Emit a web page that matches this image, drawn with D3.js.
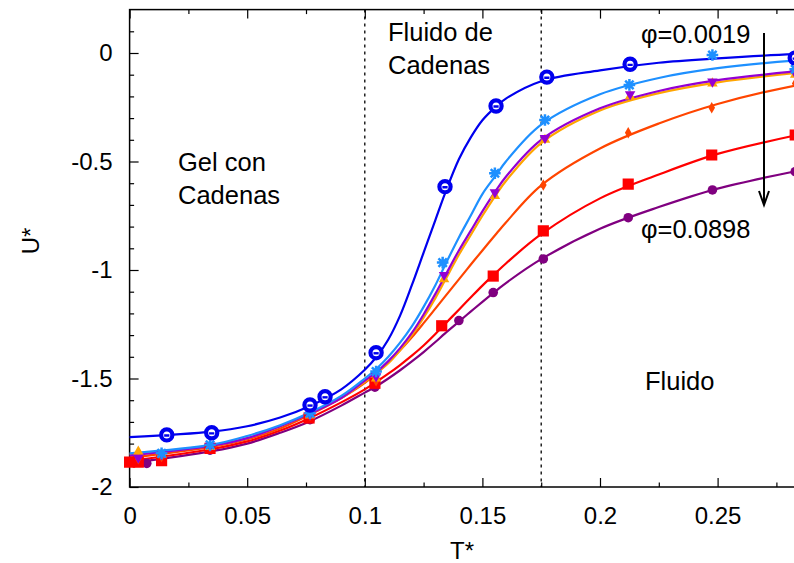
<!DOCTYPE html>
<html>
<head>
<meta charset="utf-8">
<script src="https://cdn.jsdelivr.net/npm/d3@7"></script>
<style>
  html, body { margin: 0; padding: 0; background: #fff; }
  svg { display: block; font-family: "Liberation Sans", Arial, Helvetica, sans-serif; }
</style>
</head>
<body>
<svg id="chart" width="794" height="563"></svg>
<script>
// ---- axis ticks ----
const xTicks = [0, 0.05, 0.1, 0.15, 0.2, 0.25, 0.3];
const xTickLabels = ["0", "0.05", "0.1", "0.15", "0.2", "0.25", ""];
const xMinor = [0.025, 0.075, 0.125, 0.175, 0.225, 0.275];
const yTicks = [0, -0.5, -1, -1.5, -2];
const yTickLabels = ["0", "-0.5", "-1", "-1.5", "-2"];
const yMinor = [0.1, -0.1, -0.2, -0.3, -0.4, -0.6, -0.7, -0.8, -0.9, -1.1, -1.2, -1.3, -1.4, -1.6, -1.7, -1.8, -1.9];

// ---- phase boundaries (dotted verticals) ----
const boundaries = [0.1, 0.175];

// ---- simulation points (T*, U*) per concentration ----
const tBlue  = [0.0158, 0.0349, 0.0767, 0.0831, 0.1048, 0.1341, 0.1558, 0.1774, 0.2128, 0.283];
const uBlue  = [-1.76, -1.75, -1.622, -1.584, -1.381, -0.616, -0.244, -0.111, -0.052, -0.023];

const tSky   = [0.0136, 0.0342, 0.0767, 0.1048, 0.1331, 0.1553, 0.1766, 0.2125, 0.2478, 0.283];
const uSky   = [-1.845, -1.806, -1.66, -1.468, -0.966, -0.554, -0.309, -0.147, -0.009, -0.075];

const tViolet = [0.0037, 0.0136, 0.0342, 0.0767, 0.1048, 0.1337, 0.1553, 0.1766, 0.2128, 0.2478, 0.283];
const uViolet = [-1.865, -1.85, -1.81, -1.665, -1.49, -1.023, -0.642, -0.392, -0.19, -0.132, -0.092];

const tOrange = [0.0037, 0.0136, 0.0342, 0.0767, 0.1048, 0.1337, 0.1553, 0.1766, 0.2128, 0.2478, 0.283];
const uOrange = [-1.837, -1.85, -1.815, -1.67, -1.50, -1.043, -0.659, -0.40, -0.20, -0.14, -0.10];

const tOrRed = [0.0037, 0.0136, 0.0342, 0.0767, 0.1048, 0.1759, 0.212, 0.2475, 0.283];
const uOrRed = [-1.87, -1.86, -1.815, -1.67, -1.51, -0.608, -0.367, -0.252, -0.14];

const tRed   = [0.0, 0.0037, 0.0136, 0.0342, 0.0763, 0.1043, 0.1327, 0.1546, 0.1759, 0.212, 0.2475, 0.283];
const uRed   = [-1.885, -1.885, -1.879, -1.822, -1.682, -1.522, -1.257, -1.028, -0.82, -0.604, -0.47, -0.378];

const tPurple = [0.0073, 0.0342, 0.0767, 0.1043, 0.140, 0.1546, 0.1759, 0.212, 0.2478, 0.283];
const uPurple = [-1.891, -1.83, -1.69, -1.54, -1.233, -1.104, -0.949, -0.759, -0.631, -0.547];

// ---- fitted curves, sampled on a common T* grid ----
const fitT      = [0, 0.035, 0.05, 0.064, 0.076, 0.09, 0.1, 0.105, 0.11, 0.115, 0.12, 0.125, 0.13, 0.134, 0.14, 0.145, 0.15, 0.156, 0.16, 0.175, 0.2, 0.225, 0.25, 0.283, 0.3];
const fitBlue   = [-1.77, -1.745, -1.72, -1.68, -1.63, -1.55, -1.46, -1.40, -1.32, -1.21, -1.07, -0.92, -0.77, -0.65, -0.49, -0.39, -0.31, -0.245, -0.21, -0.13, -0.08, -0.045, -0.025, -0.005, 0.0];
const fitSky    = [-1.845, -1.805, -1.765, -1.715, -1.66, -1.58, -1.50, -1.455, -1.40, -1.335, -1.26, -1.17, -1.07, -0.98, -0.85, -0.75, -0.65, -0.56, -0.50, -0.33, -0.19, -0.115, -0.07, -0.035, -0.025];
const fitViolet = [-1.855, -1.81, -1.775, -1.72, -1.665, -1.59, -1.51, -1.47, -1.42, -1.36, -1.29, -1.205, -1.11, -1.03, -0.91, -0.82, -0.73, -0.63, -0.57, -0.40, -0.255, -0.175, -0.125, -0.085, -0.07];
const fitOrange = [-1.85, -1.81, -1.775, -1.72, -1.665, -1.59, -1.515, -1.475, -1.43, -1.37, -1.30, -1.22, -1.13, -1.05, -0.93, -0.84, -0.75, -0.65, -0.59, -0.415, -0.265, -0.185, -0.135, -0.092, -0.075];
const fitOrRed  = [-1.865, -1.815, -1.78, -1.73, -1.67, -1.59, -1.52, -1.475, -1.425, -1.37, -1.31, -1.245, -1.178, -1.124, -1.043, -0.976, -0.91, -0.832, -0.781, -0.61, -0.44, -0.325, -0.235, -0.15, -0.12];
const fitRed    = [-1.88, -1.825, -1.79, -1.74, -1.685, -1.61, -1.55, -1.515, -1.478, -1.438, -1.395, -1.348, -1.295, -1.25, -1.183, -1.127, -1.072, -1.01, -0.97, -0.835, -0.67, -0.56, -0.465, -0.38, -0.345];
const fitPurple = [-1.89, -1.835, -1.80, -1.75, -1.70, -1.625, -1.565, -1.535, -1.50, -1.462, -1.421, -1.378, -1.332, -1.293, -1.238, -1.192, -1.147, -1.094, -1.06, -0.95, -0.81, -0.71, -0.625, -0.545, -0.51];

// ---- series styling ----
const seriesList = [
  { t: tPurple, u: uPurple, fit: fitPurple, color: "#800080", marker: "circle" },
  { t: tRed,    u: uRed,    fit: fitRed,    color: "#ff0000", marker: "square" },
  { t: tOrRed,  u: uOrRed,  fit: fitOrRed,  color: "#ff4500", marker: "diamond" },
  { t: tOrange, u: uOrange, fit: fitOrange, color: "#ffa500", marker: "triUp" },
  { t: tViolet, u: uViolet, fit: fitViolet, color: "#9400d3", marker: "triDown" },
  { t: tSky,    u: uSky,    fit: fitSky,    color: "#1e90ff", marker: "star" },
  { t: tBlue,   u: uBlue,   fit: fitBlue,   color: "#0000ee", marker: "ring" }
];

// ---- annotations ----
const phaseLines = [["Fluido de", "Cadenas"], ["Gel con", "Cadenas"], ["Fluido"]];
const phiTop = "\u03c6=0.0019";
const phiBottom = "\u03c6=0.0898";

const svg = d3.select("#chart");
const W = 794, H = 563;
const x = d3.scaleLinear().domain([0, 0.3]).range([129.6, 835.2]);
const y = d3.scaleLinear().domain([-2, 0.2]).range([487, 9.6]);
const tickFont = 24;
const textFont = 25.5;

// plot frame
svg.append("rect")
  .attr("x", x(0)).attr("y", y(0.2))
  .attr("width", x(0.3) - x(0)).attr("height", y(-2) - y(0.2))
  .attr("fill", "none").attr("stroke", "#000").attr("stroke-width", 1.5);

// ticks (inward, mirrored on top)
function tickAxis(axisFn, scale, vals, size, labels, transform) {
  const a = axisFn(scale).tickValues(vals).tickSizeInner(size).tickSizeOuter(0)
    .tickFormat((d, i) => labels ? labels[i] : "");
  const g = svg.append("g").attr("transform", transform).call(a);
  g.select(".domain").remove();
  g.selectAll(".tick line").attr("stroke", "#000").attr("stroke-width", 1.2);
  g.selectAll(".tick text").attr("font-size", tickFont).attr("fill", "#000")
    .attr("font-family", "Liberation Sans, Arial, sans-serif");
  return g;
}
const gx = tickAxis(d3.axisBottom, x, xTicks, -9, xTickLabels, `translate(0,${y(-2)})`);
gx.selectAll(".tick text").attr("y", 20).attr("dy", "0.71em");
tickAxis(d3.axisBottom, x, xMinor, -4.5, null, `translate(0,${y(-2)})`);
tickAxis(d3.axisTop, x, xTicks, -9, null, `translate(0,${y(0.2)})`);
tickAxis(d3.axisTop, x, xMinor, -4.5, null, `translate(0,${y(0.2)})`);
const gy = tickAxis(d3.axisLeft, y, yTicks, -9, yTickLabels, `translate(${x(0)},0)`);
gy.selectAll(".tick text").attr("x", -17);
tickAxis(d3.axisLeft, y, yMinor, -4.5, null, `translate(${x(0)},0)`);

// axis titles
svg.append("text").attr("x", 462).attr("y", 559).attr("text-anchor", "middle")
  .attr("font-size", 24).text("T*");
svg.append("text").attr("transform", `translate(39,241) rotate(-90)`)
  .attr("text-anchor", "middle").attr("font-size", 24).text("U*");

// phase boundaries
boundaries.forEach(b => {
  svg.append("line").attr("x1", x(b)).attr("x2", x(b)).attr("y1", y(0.2)).attr("y2", y(-2))
    .attr("stroke", "#000").attr("stroke-width", 1.3).attr("stroke-dasharray", "3,4");
});

// clip for marks
svg.append("clipPath").attr("id", "plotClip").append("rect")
  .attr("x", x(0) - 8).attr("y", y(0.2)).attr("width", W).attr("height", y(-2) - y(0.2) + 8);
const plot = svg.append("g").attr("clip-path", "url(#plotClip)");

// fitted curves
const lineGen = d3.line().curve(d3.curveCatmullRom.alpha(0.5))
  .x((d, i) => x(fitT[i])).y(d => y(d));
seriesList.forEach(s => {
  plot.append("path").attr("d", lineGen(s.fit)).attr("fill", "none")
    .attr("stroke", s.color).attr("stroke-width", 2.2);
});

// markers
function drawMarker(g, type, color) {
  if (type === "circle") {
    g.append("circle").attr("r", 4.8).attr("fill", color);
  } else if (type === "square") {
    g.append("path").attr("d", d3.symbol(d3.symbolSquare, 125)()).attr("fill", color);
  } else if (type === "diamond") {
    g.append("path").attr("d", d3.symbol(d3.symbolDiamond, 38)()).attr("fill", color);
  } else if (type === "triUp") {
    g.append("path").attr("d", d3.symbol(d3.symbolTriangle, 48)()).attr("fill", color);
  } else if (type === "triDown") {
    g.append("path").attr("d", d3.symbol(d3.symbolTriangle, 48)()).attr("fill", color)
      .attr("transform", "rotate(180)");
  } else if (type === "star") {
    const r = 5.8, d = r * 0.72;
    g.append("path").attr("d", `M${-r},0H${r}M0,${-r}V${r}M${-d},${-d}L${d},${d}M${-d},${d}L${d},${-d}`)
      .attr("stroke", color).attr("stroke-width", 2.5).attr("fill", "none");
  } else if (type === "ring") {
    g.append("circle").attr("r", 5.6).attr("fill", "#fff").attr("stroke", color).attr("stroke-width", 4.2);
    g.append("line").attr("x1", -2.6).attr("x2", 2.6).attr("y1", 0.6).attr("y2", 0.6)
      .attr("stroke", color).attr("stroke-width", 2.4);
  }
}
seriesList.forEach(s => {
  s.t.forEach((tv, i) => {
    const g = plot.append("g").attr("transform", `translate(${x(tv)},${y(s.u[i])})`);
    drawMarker(g, s.marker, s.color);
  });
});

// phase labels
const labelPos = [[388, 41], [178, 171], [645, 390]];
phaseLines.forEach((lines, k) => {
  const tx = svg.append("text").attr("font-size", textFont).attr("fill", "#000");
  lines.forEach((ln, j) => {
    tx.append("tspan").attr("x", labelPos[k][0]).attr("y", labelPos[k][1] + j * 33).text(ln);
  });
});

// concentration arrow
svg.append("text").attr("x", 641).attr("y", 43).attr("font-size", textFont).text(phiTop);
svg.append("text").attr("x", 641).attr("y", 238).attr("font-size", textFont).text(phiBottom);
const ax = 764;
svg.append("line").attr("x1", ax).attr("x2", ax).attr("y1", 33).attr("y2", 205)
  .attr("stroke", "#000").attr("stroke-width", 2);
svg.append("path").attr("d", `M${ax - 5},191L${ax},205L${ax + 5},191`)
  .attr("fill", "none").attr("stroke", "#000").attr("stroke-width", 2);
</script>
</body>
</html>
